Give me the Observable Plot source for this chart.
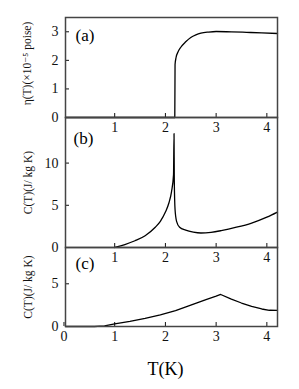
<!DOCTYPE html>
<html><head><meta charset="utf-8">
<script src="https://cdn.jsdelivr.net/npm/d3@7"></script>
<script src="https://cdn.jsdelivr.net/npm/@observablehq/plot@0.6"></script>
<style>
body{margin:0;background:#fff;}
#wrap{position:relative;width:299px;height:389px;overflow:hidden;background:#fff}
#wrap svg{position:absolute;left:0;}
#wrap svg, #wrap svg text{font-family:"Liberation Serif","DejaVu Serif",serif !important;}
</style></head><body><div id="wrap"></div>
<script>
// shared x (temperature, K)
const xDomain = [0.03, 4.21];
const xTicksAB = [1, 2, 3, 4];
const xTicksC = [0, 1, 2, 3, 4];

// (a) viscosity eta(T), units 1e-5 poise
const etaT = [0.03, 2.185, 2.19, 2.21, 2.25, 2.3, 2.4, 2.5, 2.6, 2.7, 2.85, 3.0, 3.3, 3.6, 3.9, 4.21];
const etaV = [0, 0, 1.85, 2.1, 2.3, 2.45, 2.65, 2.8, 2.89, 2.95, 2.99, 3.01, 3.0, 2.98, 2.96, 2.94];
const etaTicks = [0, 1, 2, 3];

// (b) specific heat C(T)
const cbT = [1.0, 1.2, 1.4, 1.6, 1.8, 1.9, 2.0, 2.07, 2.12, 2.16, 2.17, 2.175, 2.19, 2.22, 2.28, 2.4, 2.55, 2.7, 2.9, 3.1, 3.4, 3.7, 4.0, 4.21];
const cbV = [0, 0.35, 0.8, 1.4, 2.4, 3.1, 4.2, 5.3, 6.6, 8.6, 13.5, 8.0, 4.5, 3.1, 2.4, 2.05, 1.82, 1.72, 1.8, 2.0, 2.4, 2.9, 3.6, 4.2];
const cbTicks = [0, 5, 10];

// (c) specific heat C(T)
const ccT = [0.03, 0.6, 0.8, 1.0, 1.3, 1.6, 1.9, 2.2, 2.5, 2.8, 3.0, 3.09, 3.3, 3.5, 3.7, 3.9, 4.05, 4.21];
const ccV = [0, 0, 0.08, 0.3, 0.6, 0.95, 1.35, 1.85, 2.5, 3.15, 3.55, 3.75, 3.2, 2.75, 2.35, 2.05, 1.9, 1.88];
const ccTicks = [0, 5];

const wrap = document.getElementById("wrap");
const FONT = "Liberation Serif, DejaVu Serif, serif";

function panel(o) {
  const data = o.T.map((t, i) => ({T: t, v: o.V[i]}));
  const mt = o.frameTop - o.top;
  const height = o.frameBottom - o.top + o.marginBottom;
  const svg = Plot.plot({
    width: 299, height,
    marginTop: mt, marginBottom: o.marginBottom, marginLeft: 65, marginRight: 22,
    style: {background: "transparent", fontFamily: FONT, fontSize: "14px", color: "#111", overflow: "visible"},
    x: {domain: xDomain},
    y: {domain: o.yDomain},
    marks: [
      Plot.axisY(o.yTicks, {tickSize: -4, tickPadding: 11, label: null, fontSize: 14}),
      Plot.axisX(o.xTicks, {tickSize: -4, tickPadding: 9, label: null, fontSize: 14}),
      Plot.line(data, {x: "T", y: "v", curve: o.curve, stroke: "#000", strokeWidth: 1.3}),
      Plot.frame({stroke: "#444", strokeWidth: 1.5}),
      Plot.text([o.ylabel], {text: d => d, frameAnchor: "left", rotate: -90, dx: o.ylabelDx, dy: o.ylabelDy || 0, fontSize: 11.5, textAnchor: "middle", lineAnchor: "middle", fill: "#111"}),
      Plot.text([o.tag], {text: d => d, frameAnchor: "top-left", dx: o.tagDx, dy: o.tagDy, lineAnchor: "middle", textAnchor: "start", fontSize: 17, fill: "#000"}),
      ...(o.extra || [])
    ]
  });
  svg.style.top = o.top + "px";
  wrap.appendChild(svg);
}

panel({top: 0, frameTop: 17, frameBottom: 117, marginBottom: 22,
  yDomain: [0, 3.5], yTicks: etaTicks, xTicks: xTicksAB, T: etaT, V: etaV, curve: "monotone-x",
  ylabel: "η(T)(×10⁻⁵ poise)", ylabelDx: -38, ylabelDy: -4, tag: "(a)", tagDx: 10, tagDy: 18});

panel({top: 107, frameTop: 117, frameBottom: 247, marginBottom: 22,
  yDomain: [0, 15.4], yTicks: cbTicks, xTicks: xTicksAB, T: cbT, V: cbV, curve: "monotone-x",
  ylabel: "C(T)(J/ kg K)", ylabelDx: -37, tag: "(b)", tagDx: 8, tagDy: 21});

panel({top: 237, frameTop: 247, frameBottom: 326, marginBottom: 63,
  yDomain: [0, 9.25], yTicks: ccTicks, xTicks: xTicksC, T: ccT, V: ccV, curve: "linear",
  ylabel: "C(T)(J/ kg K)", ylabelDx: -37, tag: "(c)", tagDx: 10, tagDy: 16,
  extra: [Plot.text(["T(K)"], {text: d => d, frameAnchor: "bottom", dy: 43, dx: -6, fontSize: 18, lineAnchor: "middle", fill: "#000"})]});
</script></body></html>
